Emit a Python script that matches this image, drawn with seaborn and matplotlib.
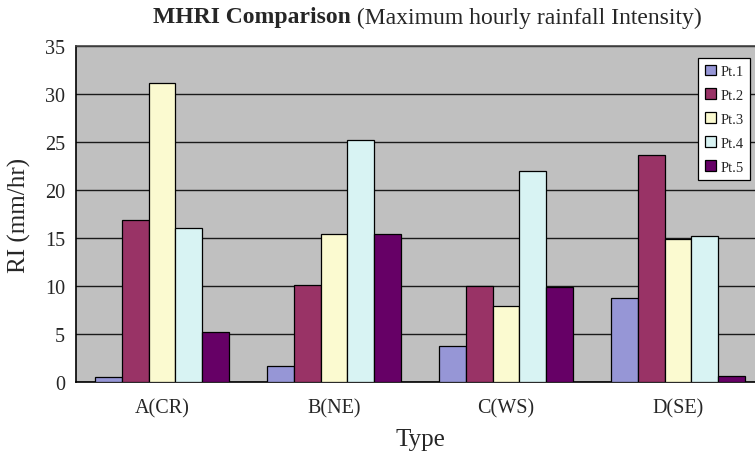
import matplotlib
matplotlib.use("Agg")
import matplotlib.pyplot as plt
from matplotlib.patches import Patch
import seaborn as sns
import pandas as pd

# Rainfall intensity (mm/hr) per station type, one list per measuring point
types = ["A(CR)", "B(NE)", "C(WS)", "D(SE)"]
points = ["Pt.1", "Pt.2", "Pt.3", "Pt.4", "Pt.5"]
pt1 = [0.55, 1.65, 3.8, 8.7]
pt2 = [16.9, 10.1, 9.95, 23.65]
pt3 = [31.1, 15.4, 7.9, 14.9]
pt4 = [16.05, 25.25, 22.0, 15.2]
pt5 = [5.25, 15.4, 9.85, 0.6]
colors = ["#9696d6", "#993366", "#fbfad0", "#d8f3f3", "#660066"]

series = [pt1, pt2, pt3, pt4, pt5]
df = pd.DataFrame(
    [(t, p, v) for p, vals in zip(points, series) for t, v in zip(types, vals)],
    columns=["Type", "Point", "RI"],
)

sns.set_style("white")
plt.rcParams["font.family"] = ["Liberation Serif", "DejaVu Serif"]

fig = plt.figure(figsize=(7.55, 4.56), dpi=100)
ax = fig.add_axes([76 / 755, 73 / 456, 688 / 755, 336 / 456])
ax.set_facecolor("#c0c0c0")

sns.barplot(
    data=df, x="Type", y="RI", hue="Point", hue_order=points,
    palette=colors, width=0.775, edgecolor="black", linewidth=0.9,
    saturation=1, ax=ax, legend=False, zorder=3,
)

ax.set_ylim(0, 35)
ax.set_yticks(range(0, 36, 5))
ax.set_xlim(-0.5, 3.5)
ax.yaxis.grid(True, color="#1a1a1a", linewidth=1.0, zorder=0)
ax.set_axisbelow(True)

# category ticks sit on the boundaries between groups
ax.set_xticks([0, 1, 2, 3])
ax.set_xticks([0.5, 1.5, 2.5], minor=True)
ax.tick_params(axis="x", which="major", length=0, labelsize=14.5, pad=12)
ax.tick_params(axis="x", which="minor", length=5, direction="in", width=1, color="#333333")
ax.tick_params(axis="y", length=5, direction="in", width=1, labelsize=14.5, pad=8, color="#333333")

for side in ("left", "bottom"):
    ax.spines[side].set_color("black")
    ax.spines[side].set_linewidth(1.2)
ax.spines["top"].set_color("#444444")
ax.spines["top"].set_linewidth(1.2)
ax.spines["right"].set_visible(False)

ax.set_xlabel("Type", fontsize=18, labelpad=7)
ax.set_ylabel("RI (mm/hr)", fontsize=18, labelpad=10)

handles = [Patch(facecolor=c, edgecolor="black", linewidth=0.9) for c in colors]
leg = ax.legend(
    handles, points, loc="upper right",
    bbox_to_anchor=(750 / 755, (456 - 59) / 456), bbox_transform=fig.transFigure,
    frameon=True, fancybox=False, edgecolor="black", facecolor="white",
    framealpha=1.0, fontsize=10.5, handlelength=0.75, handleheight=0.75,
    handletextpad=0.3, labelspacing=0.72, borderpad=0.45, borderaxespad=0,
)
leg.get_frame().set_linewidth(0.9)
leg.set_zorder(5)

# title: bold lead-in followed by a regular-weight explanation
fig.canvas.draw()
renderer = fig.canvas.get_renderer()
t1 = fig.text(0, 1 - 18 / 456, "MHRI Comparison", fontsize=17, fontweight="bold", va="center")
t2 = fig.text(0, 1 - 18 / 456, " (Maximum hourly rainfall Intensity)", fontsize=17, va="center")
w1 = t1.get_window_extent(renderer).width
w2 = t2.get_window_extent(renderer).width
x0 = (427 - (w1 + w2) / 2) / 755
t1.set_x(x0)
t2.set_x(x0 + w1 / 755)

fig.savefig("out.png", dpi=100)
